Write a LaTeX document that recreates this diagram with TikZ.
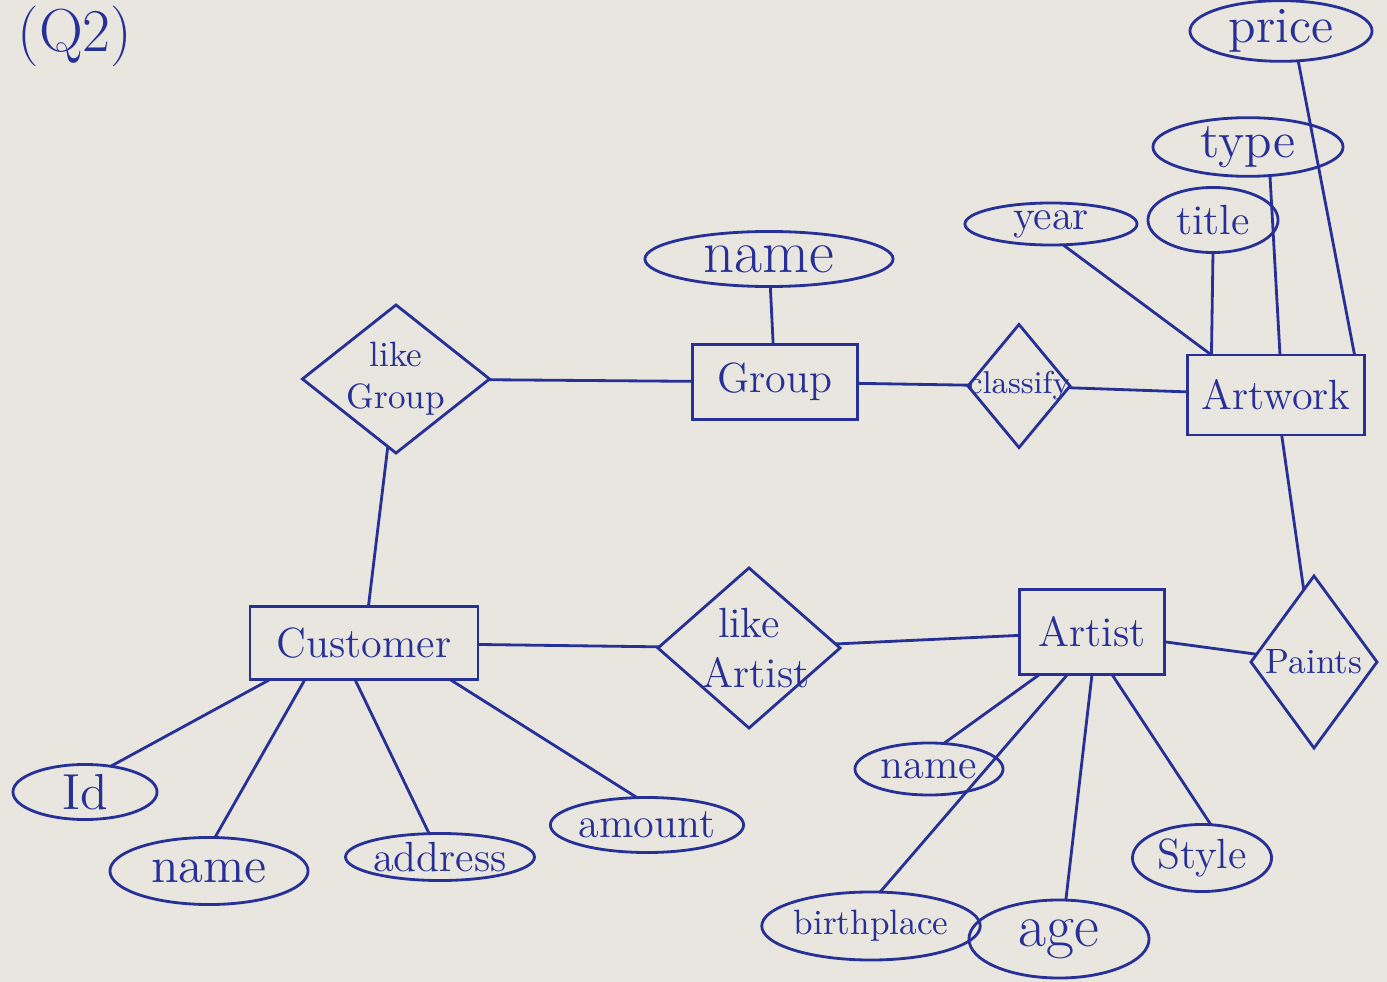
\documentclass[tikz,border=0pt]{standalone}
\usetikzlibrary{shapes.geometric}
\definecolor{ink}{RGB}{38,48,150}
\definecolor{paper}{RGB}{232,230,222}
\begin{document}
\begin{tikzpicture}[x=0.01cm, y=-0.01cm, thick, color=ink,
  every node/.style={inner sep=0pt, outer sep=0pt},
  ent/.style={draw, rectangle, font=\large},
  attr/.style={draw, ellipse, font=\Large},
  rel/.style={draw, diamond}]
\useasboundingbox (0,0) rectangle (1387,982);
\fill[paper] (0,0) rectangle (1387,982);

\node[font=\LARGE] (qno) at (75,36) {(Q2)};

\node[ent, minimum width=1.65cm, minimum height=0.75cm] (grp) at (775,382) {Group};
\node[ent, minimum width=1.77cm, minimum height=0.8cm] (art) at (1276,395) {Artwork};
\node[ent, minimum width=2.28cm, minimum height=0.73cm] (cust) at (364,643) {Customer};
\node[ent, minimum width=1.45cm, minimum height=0.85cm] (artist) at (1092,632) {Artist};

\node[rel, minimum width=1.87cm, minimum height=1.48cm, label={[font=\normalsize, align=center]center:like\\Group}] (likegrp) at (396,379) {};
\node[rel, minimum width=1.02cm, minimum height=1.23cm, label={[font=\small]center:classify}] (classify) at (1019,386) {};
\node[rel, minimum width=1.82cm, minimum height=1.6cm, label={[font=\large, align=center]center:like\\\ Artist}] (likeart) at (749,648) {};
\node[rel, minimum width=1.26cm, minimum height=1.72cm, label={[font=\normalsize]center:Paints}] (paints) at (1314,662) {};

\node[attr, minimum width=2.48cm, minimum height=0.55cm, font=\LARGE] (gname) at (769,259) {name};
\node[attr, minimum width=1.82cm, minimum height=0.38cm] (price) at (1281,31) {price};
\node[attr, minimum width=1.9cm, minimum height=0.41cm] (type) at (1248,147) {type};
\node[attr, minimum width=1.3cm, minimum height=0.65cm, font=\large] (title) at (1213,220) {title};
\node[attr, minimum width=1.72cm, minimum height=0.42cm, font=\large] (year) at (1051,224) {year};

\node[attr, minimum width=1.44cm, minimum height=0.55cm] (cid) at (85,792) {Id};
\node[attr, minimum width=1.98cm, minimum height=0.67cm] (cname) at (209,871) {name};
\node[attr, minimum width=1.85cm, minimum height=0.47cm, font=\large] (addr) at (440,857) {address};
\node[attr, minimum width=1.85cm, minimum height=0.55cm, font=\large] (amt) at (647,825) {amount};

\node[attr, minimum width=1.48cm, minimum height=0.52cm, font=\large] (aname) at (929,769) {name};
\node[attr, minimum width=1.86cm, minimum height=0.68cm, font=\normalsize] (birth) at (871,926) {birthplace};
\node[attr, minimum width=1.8cm, minimum height=0.78cm, font=\LARGE] (age) at (1059,939) {age};
\node[attr, minimum width=1.39cm, minimum height=0.67cm, font=\large] (sty) at (1202,858) {Style};

\draw (gname) -- (grp);
\draw (likegrp) -- (grp);
\draw (grp) -- (classify);
\draw (classify) -- (art);
\draw (year.300) -- ([xshift=0.24cm]art.north west);
\draw (title.south) -- ([xshift=0.24cm]art.north west);
\draw ([xshift=0.22cm]type.south) -- ([xshift=0.04cm]art.north);
\draw (price.-60) -- ([xshift=-0.1cm]art.north east);
\draw (art) -- (paints);
\draw (artist) -- (paints);
\draw (likeart) -- (artist);
\draw (cust) -- (likeart);
\draw (likegrp) -- (cust);
\draw ([xshift=0.2cm]cust.south west) -- (cid.45);
\draw ([xshift=0.55cm]cust.south west) -- (cname.80);
\draw ([xshift=1.05cm]cust.south west) -- (addr.115);
\draw ([xshift=2cm]cust.south west) -- (amt.110);
\draw ([xshift=0.2cm]artist.south west) -- (aname.60);
\draw ([xshift=0.48cm]artist.south west) -- (birth.75);
\draw (artist.south) -- (age.80);
\draw ([xshift=0.2cm]artist.south) -- (sty.75);
\end{tikzpicture}
\end{document}
